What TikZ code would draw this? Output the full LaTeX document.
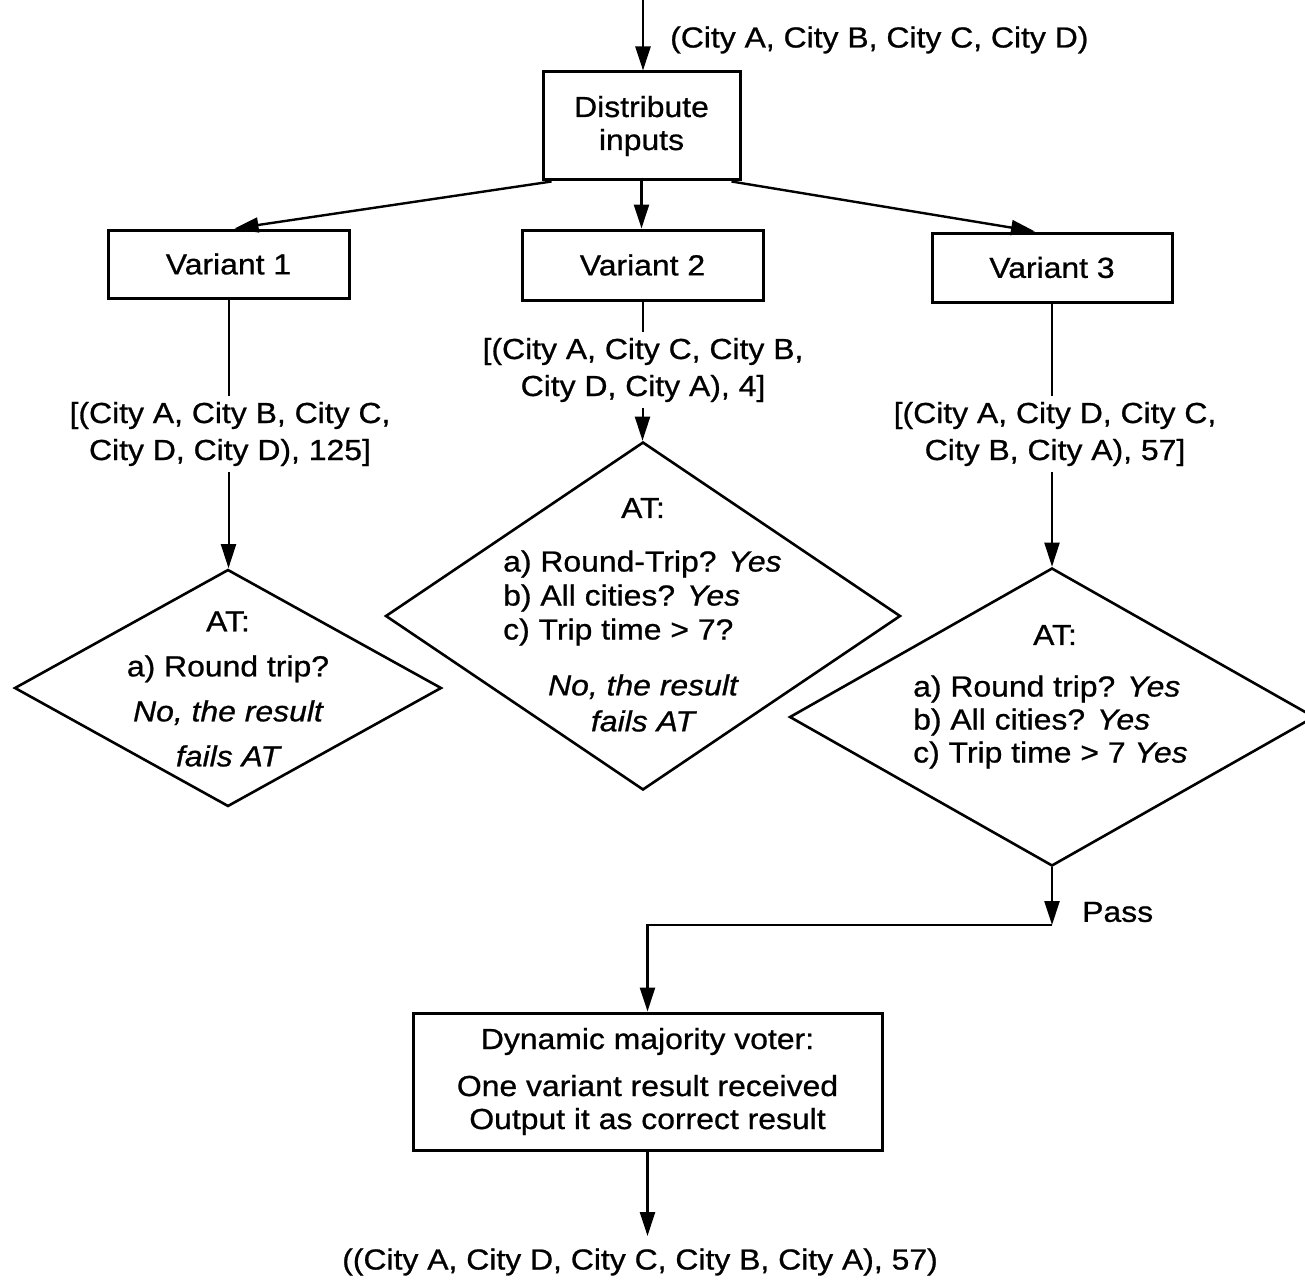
\documentclass[tikz,border=0pt]{standalone}
\usepackage{fontspec}
\setmainfont{Liberation Sans}[FakeStretch=1.1,FakeBold=0.8]
\usetikzlibrary{arrows.meta,shapes.geometric}
\begin{document}
\begin{tikzpicture}[x=1pt,y=-1pt,
  every node/.style={font=\fontsize{29}{37}\selectfont},
  box/.style={draw,line width=3pt,inner sep=0pt,align=center},
  test/.style={draw,diamond,line width=2.6pt,inner sep=0pt},
  txt/.style={inner sep=0pt,align=center},
  lbl/.style={fill=white,inner xsep=0pt,inner ysep=6pt,align=center},
  flow/.style={line width=2.4pt,-{Triangle[length=24pt,width=15pt]}},
  thin flow/.style={line width=2pt,-{Triangle[length=24pt,width=15pt]}}]
\useasboundingbox (0,0) rectangle (1305,1284);

% input and distribution
\coordinate (top) at (643,0);
\node[box,minimum width=197pt,minimum height=108pt] (dist) at (641.5,126) {Distribute\\[-4pt]inputs};
\node[txt,anchor=west] (inlbl) at (670,40) {(City A, City B, City C, City D)};
\draw[flow] (top) -- (top |- dist.north);

% variants
\node[box,minimum width=241pt,minimum height=68pt] (v1) at (228.5,264) {Variant 1};
\node[box,minimum width=241pt,minimum height=70pt] (v2) at (642.5,265) {Variant 2};
\node[box,minimum width=240pt,minimum height=69pt] (v3) at (1052,267.5) {Variant 3};
\draw[flow] ([xshift=10pt]dist.south west) -- ([xshift=6pt]v1.north);
\draw[flow] (dist.south) -- (dist.south |- v2.north);
\draw[flow] ([xshift=-10pt]dist.south east) -- ([xshift=-17pt]v3.north);

% acceptance tests
\node[test,minimum width=427pt,minimum height=237pt] (d1) at (228,688) {};
\node[test,minimum width=515pt,minimum height=348pt] (d2) at (643,616) {};
\node[test,minimum width=525pt,minimum height=298pt] (d3) at (1052,717) {};
\draw[thin flow] (v1.south) -- (v1.south |- d1.north);
\draw[thin flow] (v2.south) -- (v2.south |- d2.north);
\draw[thin flow] (v3.south) -- (d3.north);

% variant results, set over the connectors
\node[lbl] (r1) at (230,434) {[(City A, City B, City C,\\City D, City D), 125]};
\node[lbl] (r2) at (643,370) {[(City A, City C, City B,\\City D, City A), 4]};
\node[lbl] (r3) at (1055,434) {[(City A, City D, City C,\\City B, City A), 57]};

\node[txt,font=\fontsize{29}{45}\selectfont] (t1) at (228,689)
  {AT:\\a) Round trip?\\\itshape No, the result\\\itshape fails AT};

\node[txt] (t2a) at (643,508) {AT:};
\node[txt,align=left,anchor=west,font=\fontsize{29}{34}\selectfont] (t2b) at (503,598)
  {a) Round-Trip? \textit{Yes}\\b) All cities? \textit{Yes}\\c) Trip time > 7?};
\node[txt,font=\fontsize{29}{36}\selectfont\itshape] (t2c) at (643,703) {No, the result\\fails AT};

\node[txt] (t3a) at (1055,635) {AT:};
\node[txt,align=left,anchor=west,font=\fontsize{29}{33}\selectfont] (t3b) at (913,722)
  {a) Round trip? \textit{Yes}\\b) All cities? \textit{Yes}\\c) Trip time > 7 \textit{Yes}};

% voter
\coordinate (pj) at (1052,925);
\node[txt,anchor=west] (pass) at (1082,912) {Pass};
\node[box,minimum width=469pt,minimum height=137pt] (voter) at (647.5,1081.5)
  {Dynamic majority voter:\\[10pt]One variant result received\\[-4pt]Output it as correct result};
\draw[flow] (d3.south) -- (pj);
\draw[flow] (pj) -- (pj -| voter.north) -- (voter.north);

% output
\node[txt] (out) at (640,1262) {((City A, City D, City C, City B, City A), 57)};
\coordinate (outtip) at (647.5,1236);
\draw[flow] (voter.south) -- (outtip);
\end{tikzpicture}
\end{document}
